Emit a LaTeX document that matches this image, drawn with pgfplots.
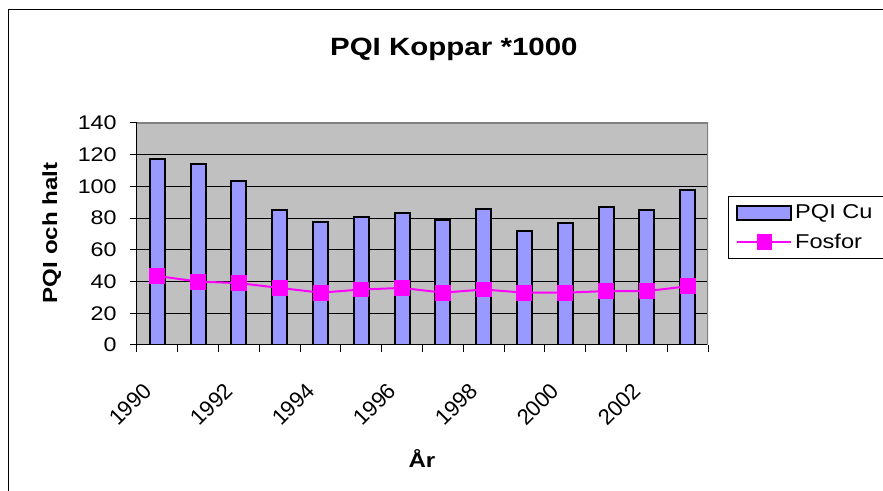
\documentclass[border=0pt]{standalone}
\usepackage{fontspec}
\setmainfont{Liberation Sans}[FakeStretch=1.18]
\newfontfamily\plainsans{Liberation Sans}
\usepackage{pgfplots}
\pgfplotsset{compat=1.18}
\definecolor{barblue}{HTML}{9999FF}
\definecolor{plotgray}{HTML}{C0C0C0}
\definecolor{fosfor}{HTML}{FF00FF}
\definecolor{bordergray}{HTML}{808080}
\pgfplotsset{
  barleg/.style={legend image code/.code={\draw[##1] (0pt,-5.25pt) rectangle (40.5pt,5.25pt);}},
  lineleg/.style={legend image code/.code={\draw[mark repeat=2,mark phase=2,##1] plot coordinates {(0pt,0pt) (20.25pt,0pt) (40.5pt,0pt)};}},
}
\begin{document}
\begin{tikzpicture}
\useasboundingbox (0,0) rectangle (662.25pt,-368.25pt);
\draw[line width=0.75pt] (6pt,-368.25pt) -- (6pt,-7.5pt) -- (662.25pt,-7.5pt);
\begin{axis}[
  at={(102.75pt,-258.75pt)}, anchor=south west,
  scale only axis, width=428.25pt, height=166.5pt,
  xmin=-0.5, xmax=13.5, ymin=0, ymax=140,
  axis x line*=bottom, axis y line*=left,
  axis line style={black, line width=0.75pt, -},
  axis background/.style={fill=plotgray},
  ytick={0,20,...,140},
  xtick={0,2,...,12},
  xticklabels={1990,1992,1994,1996,1998,2000,2002},
  minor xtick={-0.5,0.5,...,13.5},
  major x tick style={draw=none},
  tick align=outside,
  major tick length=5pt, minor tick length=5pt,
  tick style={black, line width=0.75pt},
  ymajorgrids, grid style={black, line width=0.75pt},
  /pgf/number format/assume math mode=true,
  yticklabel style={font=\fontsize{14.8pt}{17pt}\selectfont, xshift=-6.75pt},
  xticklabel style={font=\plainsans\fontsize{16.5pt}{18pt}\selectfont, yshift=-24pt, xshift=-5pt, rotate=45, anchor=east},
  title={PQI Koppar *1000},
  title style={at={(rel axis cs:0.555,1.267)}, anchor=base, font=\bfseries\fontsize{18.75pt}{22pt}\selectfont},
  xlabel={År},
  xlabel style={at={(rel axis cs:0.499,-0.55)}, anchor=base, font=\bfseries\fontsize{15.3pt}{18pt}\selectfont},
  ylabel={PQI och halt},
  ylabel style={at={(rel axis cs:-0.140,0.505)}, anchor=base, font=\bfseries\fontsize{15.3pt}{18pt}\selectfont},
  legend style={at={(rel axis cs:1.035,0.671)}, anchor=north west, draw=black, line width=0.75pt, fill=white,
    font=\fontsize{15pt}{18pt}\selectfont, inner xsep=6pt, inner ysep=4pt, row sep=6pt, cells={anchor=west}},
]
\addplot[ybar, bar width=11.25pt, fill=barblue, draw=black, line width=1.5pt, barleg]
  coordinates {(0,117) (1,114) (2,103.5) (3,85) (4,77.5) (5,81) (6,83) (7,79) (8,86) (9,72) (10,77) (11,87) (12,85) (13,98)};
\addlegendentry{PQI Cu}
\addplot[fosfor, line width=1.5pt, mark=square*, mark size=5.6pt, mark options={fill=fosfor, draw=fosfor, line width=0pt}, lineleg]
  coordinates {(0,43.5) (1,40) (2,39) (3,36) (4,33) (5,35) (6,36) (7,33) (8,35) (9,33) (10,33) (11,34) (12,34) (13,37)};
\addlegendentry{Fosfor}
\draw[bordergray, line width=1.5pt] (rel axis cs:0,1) -- (rel axis cs:1,1) -- (rel axis cs:1,0);
\end{axis}
\end{tikzpicture}
\end{document}
